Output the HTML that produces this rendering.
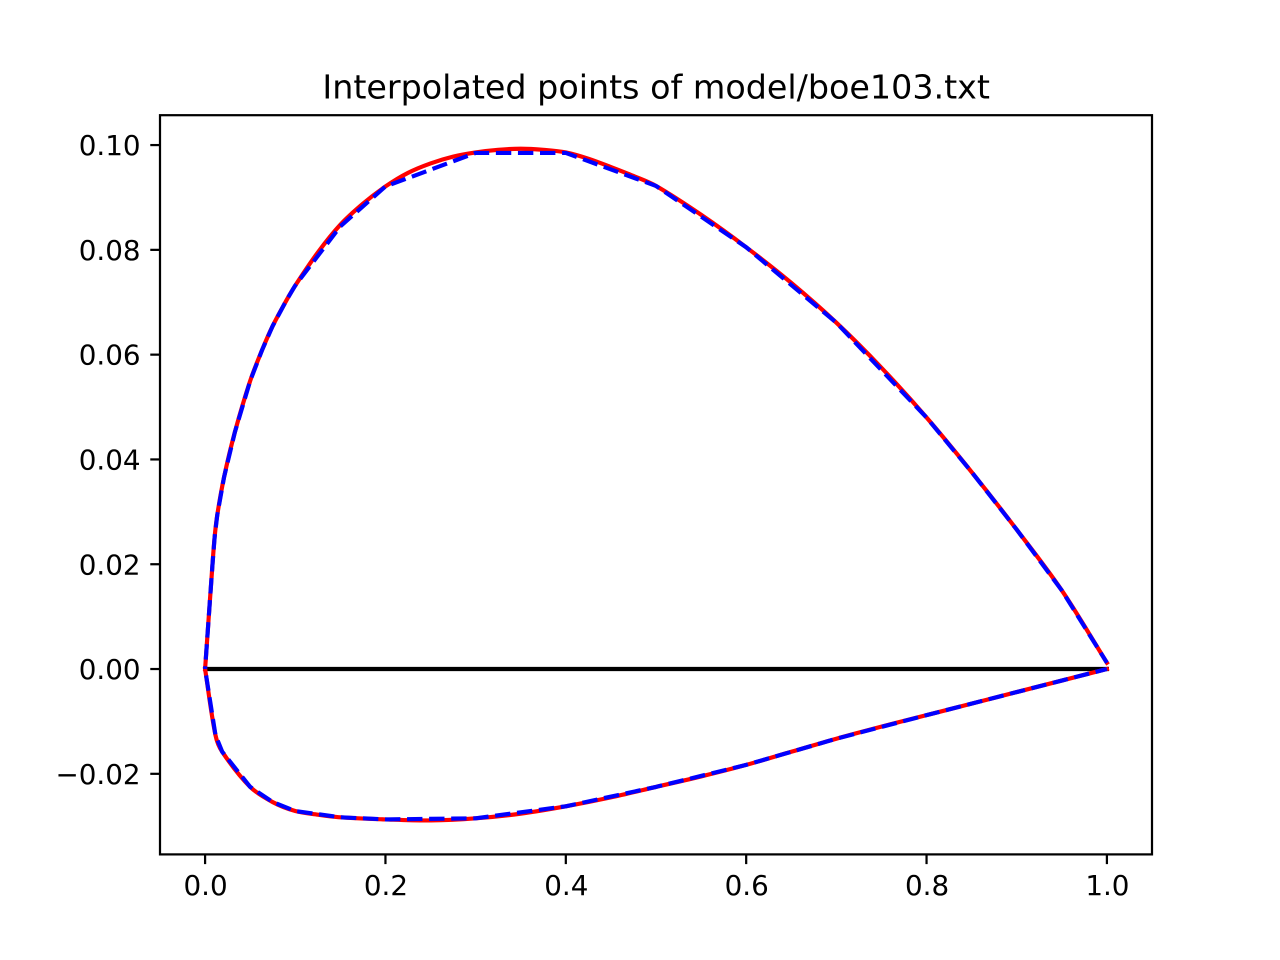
<!DOCTYPE html>
<html lang="en">
<head>
<meta charset="utf-8">
<title>Interpolated points of model/boe103.txt</title>
<style>
html,body{margin:0;padding:0;background:#fff;width:1280px;height:960px;overflow:hidden}
svg{display:block}
text{font-family:"DejaVu Sans",sans-serif;fill:#000}
</style>
</head>
<body>
<svg id="chart" xmlns="http://www.w3.org/2000/svg" width="1280" height="960" viewBox="0 0 1280 960">
<rect x="0" y="0" width="1280" height="960" fill="#fff"/>
<rect x="160" y="115.2" width="992" height="739.2" fill="#fff"/>
<text x="656.2" y="98.5" font-size="33.33" text-anchor="middle">Interpolated points of model/boe103.txt</text>
<g id="chord"></g>
<g id="red"></g>
<g id="blue"></g>
<rect x="160" y="115.2" width="992" height="739.2" fill="none" stroke="#000" stroke-width="2.22"/>
<g id="ticks"></g>
</svg>
<script>
const xTicks = [0, 0.2, 0.4, 0.6, 0.8, 1];
const xTickLabels = ["0.0", "0.2", "0.4", "0.6", "0.8", "1.0"];
const yTicks = [-0.02, 0, 0.02, 0.04, 0.06, 0.08, 0.1];
const yTickLabels = ["\u22120.02", "0.00", "0.02", "0.04", "0.06", "0.08", "0.10"];

const chordX = [0, 1];
const chordY = [0, 0];

const blueUpperX = [1, 0.95, 0.9, 0.85, 0.8, 0.7, 0.6, 0.5, 0.4, 0.3, 0.2, 0.15, 0.1, 0.09, 0.075, 0.063, 0.05, 0.033, 0.021, 0.0135, 0.0106, 0.008, 0];
const blueUpperY = [0.0012, 0.015, 0.0266, 0.0376, 0.048, 0.0661, 0.0805, 0.0922, 0.0985, 0.0985, 0.0921, 0.0845, 0.0732, 0.0703, 0.0655, 0.0608, 0.055, 0.0452, 0.0366, 0.0294, 0.0252, 0.0195, 0];
const blueLowerX = [1, 0.95, 0.9, 0.8, 0.7, 0.6, 0.5, 0.4, 0.3, 0.2, 0.15, 0.1, 0.075, 0.05, 0.019, 0.0115, 0];
const blueLowerY = [0, -0.0022, -0.0044, -0.0088, -0.0133, -0.0183, -0.0225, -0.0262, -0.0285, -0.0287, -0.0283, -0.0271, -0.0254, -0.0225, -0.0158, -0.0126, 0];

const redUpperX = [1, 0.95, 0.9, 0.85, 0.8, 0.75, 0.7, 0.65, 0.6, 0.55, 0.5, 0.475, 0.45, 0.425, 0.4, 0.375, 0.35, 0.325, 0.3, 0.275, 0.25, 0.225, 0.2, 0.175, 0.15, 0.125, 0.1, 0.09, 0.075, 0.063, 0.05, 0.033, 0.021, 0.0135, 0.0106, 0.008, 0];
const redUpperY = [0.0012, 0.015, 0.0266, 0.0376, 0.048, 0.0575, 0.0661, 0.0737, 0.0805, 0.0867, 0.0922, 0.0941, 0.0958, 0.0974, 0.0986, 0.0991, 0.0993, 0.0991, 0.0986, 0.0978, 0.0965, 0.0947, 0.0921, 0.0888, 0.0848, 0.0795, 0.0732, 0.0703, 0.0655, 0.0608, 0.055, 0.0452, 0.0366, 0.0294, 0.0252, 0.0195, 0];
const redLowerX = [0, 0.0115, 0.019, 0.05, 0.075, 0.1, 0.125, 0.15, 0.2, 0.25, 0.3, 0.35, 0.4, 0.45, 0.5, 0.55, 0.6, 0.65, 0.7, 0.75, 0.8, 0.85, 0.9, 0.95, 1];
const redLowerY = [0, -0.0126, -0.0158, -0.0225, -0.0254, -0.0271, -0.0278, -0.0283, -0.0287, -0.0289, -0.0285, -0.0276, -0.0262, -0.0245, -0.0225, -0.0205, -0.0183, -0.0158, -0.0133, -0.011, -0.0088, -0.0066, -0.0044, -0.0022, 0];

const plotLeft = 160, plotRight = 1152, plotTop = 115.2, plotBottom = 854.4;
const xMin = -0.05, xMax = 1.05, yMin = -0.03538, yMax = 0.1057;
const SVG_NS = "http://www.w3.org/2000/svg";

function xScale(v) {
  return plotLeft + (v - xMin) / (xMax - xMin) * (plotRight - plotLeft);
}
function yScale(v) {
  return plotBottom - (v - yMin) / (yMax - yMin) * (plotBottom - plotTop);
}
function polylinePath(xs, ys) {
  return xs.map(function (x, i) {
    return (i ? "L" : "M") + xScale(x).toFixed(2) + " " + yScale(ys[i]).toFixed(2);
  }).join(" ");
}
function smoothPath(xs, ys) {
  const pts = xs.map(function (x, i) { return [xScale(x), yScale(ys[i])]; });
  const tangent = function (i) {
    const a = pts[Math.max(i - 1, 0)], b = pts[Math.min(i + 1, pts.length - 1)];
    const dx = b[0] - a[0], dy = b[1] - a[1], n = Math.hypot(dx, dy) || 1;
    return [dx / n, dy / n];
  };
  let d = "M" + pts[0][0].toFixed(2) + " " + pts[0][1].toFixed(2);
  for (let i = 0; i < pts.length - 1; i++) {
    const p = pts[i], q = pts[i + 1];
    const len = Math.hypot(q[0] - p[0], q[1] - p[1]) / 3;
    const t0 = tangent(i), t1 = tangent(i + 1);
    d += " C" + (p[0] + t0[0] * len).toFixed(2) + " " + (p[1] + t0[1] * len).toFixed(2) +
         " " + (q[0] - t1[0] * len).toFixed(2) + " " + (q[1] - t1[1] * len).toFixed(2) +
         " " + q[0].toFixed(2) + " " + q[1].toFixed(2);
  }
  return d;
}
function makeLine(parent, d, color, dashed) {
  const el = document.createElementNS(SVG_NS, "path");
  el.setAttribute("d", d);
  el.setAttribute("fill", "none");
  el.setAttribute("stroke", color);
  el.setAttribute("stroke-width", "4.17");
  el.setAttribute("stroke-linejoin", "round");
  el.setAttribute("stroke-linecap", dashed ? "butt" : "square");
  if (dashed) {
    el.setAttribute("stroke-dasharray", "15.4 6.67");
    el.setAttribute("stroke-dashoffset", "3.7");
  }
  parent.appendChild(el);
  return el;
}

const chordLayer = document.getElementById("chord");
const redLayer = document.getElementById("red");
const blueLayer = document.getElementById("blue");
const tickLayer = document.getElementById("ticks");

const chordLine = makeLine(chordLayer, polylinePath(chordX, chordY), "#000", false);



const redUpper = makeLine(redLayer, smoothPath(redUpperX, redUpperY), "#f00", false);



const redLower = makeLine(redLayer, smoothPath(redLowerX, redLowerY), "#f00", false);



const blueUpper = makeLine(blueLayer, polylinePath(blueUpperX, blueUpperY), "#00f", true);



const blueLower = makeLine(blueLayer, polylinePath(blueLowerX, blueLowerY), "#00f", true);



xTicks.forEach(function (v, i) {
  const px = xScale(v);
  const mark = document.createElementNS(SVG_NS, "line");
  
  
  mark.setAttribute("x1", px);
  mark.setAttribute("x2", px);
  mark.setAttribute("y1", plotBottom);
  mark.setAttribute("y2", plotBottom + 9.72);
  mark.setAttribute("stroke", "#000");
  mark.setAttribute("stroke-width", "2.22");
  tickLayer.appendChild(mark);
  const label = document.createElementNS(SVG_NS, "text");
  
  
  label.setAttribute("x", px + 0.5);
  label.setAttribute("y", 895);
  label.setAttribute("font-size", "27.78");
  label.setAttribute("text-anchor", "middle");
  label.textContent = xTickLabels[i];
  tickLayer.appendChild(label);
});

yTicks.forEach(function (v, i) {
  const py = yScale(v);
  const mark = document.createElementNS(SVG_NS, "line");
  
  
  mark.setAttribute("x1", plotLeft - 9.72);
  mark.setAttribute("x2", plotLeft);
  mark.setAttribute("y1", py);
  mark.setAttribute("y2", py);
  mark.setAttribute("stroke", "#000");
  mark.setAttribute("stroke-width", "2.22");
  tickLayer.appendChild(mark);
  const label = document.createElementNS(SVG_NS, "text");
  
  
  label.setAttribute("x", plotLeft - 19.44);
  label.setAttribute("y", py + 10.1);
  label.setAttribute("font-size", "27.78");
  label.setAttribute("text-anchor", "end");
  label.textContent = yTickLabels[i];
  tickLayer.appendChild(label);
});
</script>
</body>
</html>
